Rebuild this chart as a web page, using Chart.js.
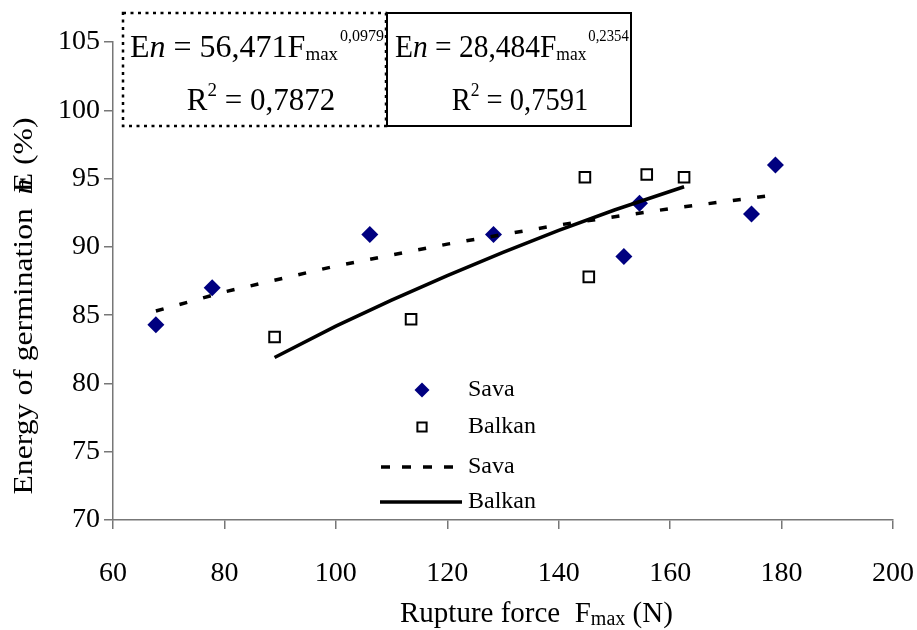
<!DOCTYPE html>
<html>
<head>
<meta charset="utf-8">
<script src="https://cdn.jsdelivr.net/npm/chart.js@4.4.1/dist/chart.umd.min.js"></script>
<style>
  html, body { margin: 0; padding: 0; background: #fff; }
  #wrap { position: relative; width: 917px; height: 630px; }
</style>
</head>
<body>
<div id="wrap"><canvas id="chart" width="917" height="630"></canvas></div>
<script>
const SERIF = '"Liberation Serif", "Times New Roman", serif';

// measured points
const savaX = [67.7, 77.8, 106.1, 128.3, 151.7, 154.5, 174.6, 178.9];
const savaY = [84.3, 87.0, 90.9, 90.9, 89.3, 93.2, 92.4, 96.0];
const balkanX = [89.0, 113.5, 144.7, 145.4, 155.8, 162.5];
const balkanY = [83.4, 84.7, 95.1, 87.8, 95.3, 95.1];

// trend lines
const savaTrendX = [67.7, 80, 100, 120, 140, 160, 178.9];
const savaTrendY = [85.3, 86.7, 88.6, 90.2, 91.6, 92.8, 93.8];
const balkanTrendX = [89, 100, 110, 120, 130, 140, 150, 162.5];
const balkanTrendY = [81.9, 84.2, 86.1, 87.9, 89.6, 91.2, 92.7, 94.4];

// axes
const xRange = [60, 200];
const xStep = 20;
const yRange = [70, 105];
const yStep = 5;

// equation boxes
const eqCoef = ["56,471", "28,484"];
const eqExp = ["0,0979", "0,2354"];
const eqR2 = ["0,7872", "0,7591"];

const legendLabels = ["Sava", "Balkan", "Sava", "Balkan"];

const NAVY = "#000080";
const AXIS = "#777777";
const f = (size, style = "") => `${style} ${size}px ${SERIF}`;
const pts = (xs, ys) => xs.map((x, i) => ({ x, y: ys[i] }));

// draws a list of text pieces one after another, returns the end x
function runText(ctx, x, y, parts, draw = true) {
  parts.forEach((p) => {
    ctx.font = p.font;
    x += p.dx || 0;
    if (draw) ctx.fillText(p.t, x, y + (p.dy || 0));
    if (!p.overlap) x += ctx.measureText(p.t).width;
  });
  return x;
}

function eqLine1(i) {
  return [
    { t: "E", font: f(32) },
    { t: "n", font: f(32, "italic") },
    { t: " = " + eqCoef[i] + "F", font: f(32) },
    { t: "max", font: f(19), dy: 3 },
    { t: eqExp[i], font: f(16), dy: -16, dx: 2 },
  ];
}
function eqLine2(i) {
  return [
    { t: "R", font: f(31) },
    { t: "2", font: f(19), dy: -14 },
    { t: " = " + eqR2[i], font: f(31) },
  ];
}

const overlay = {
  id: "overlay",
  afterDraw(chart) {
    const ctx = chart.ctx;
    ctx.save();
    ctx.fillStyle = "#000";
    ctx.strokeStyle = "#000";
    ctx.textBaseline = "alphabetic";
    ctx.textAlign = "left";

    // equation boxes (the right one is set a little narrower in the original)
    const boxes = [
      { x0: 123, x1: 386, dash: [3, 4.5], lw: 2.5, tx: 130, sx: 1, cx: 261 },
      { x0: 387, x1: 631, dash: [], lw: 2, tx: 395, sx: 0.92, cx: 520 },
    ];
    boxes.forEach((b, i) => {
      ctx.fillStyle = "#fff";
      ctx.fillRect(b.x0, 13, b.x1 - b.x0, 113);
      ctx.setLineDash(b.dash);
      ctx.lineWidth = b.lw;
      ctx.strokeRect(b.x0, 13, b.x1 - b.x0, 113);
      ctx.setLineDash([]);
      ctx.fillStyle = "#000";
      ctx.save();
      ctx.translate(b.tx, 57);
      ctx.scale(b.sx, 1);
      runText(ctx, 0, 0, eqLine1(i));
      ctx.restore();
      const w = runText(ctx, 0, 0, eqLine2(i), false);
      ctx.save();
      ctx.translate(b.cx, 110);
      ctx.scale(b.sx, 1);
      runText(ctx, -w / 2, 0, eqLine2(i));
      ctx.restore();
    });

    // legend
    const ds = chart.data.datasets;
    const lx = 422, tx = 468;
    const rows = [390, 427, 467, 502];
    ctx.fillStyle = ds[0].backgroundColor;
    Chart.helpers.drawPoint(ctx, { pointStyle: "rectRot", radius: 7.5, borderWidth: 0, rotation: 0 }, lx, rows[0]);
    ctx.fillStyle = ds[1].backgroundColor;
    ctx.strokeStyle = ds[1].borderColor;
    ctx.lineWidth = 2;
    Chart.helpers.drawPoint(ctx, { pointStyle: "rect", radius: 6.5, borderWidth: 2, rotation: 0 }, lx, rows[1]);
    ctx.strokeStyle = "#000";
    ctx.lineWidth = 3.5;
    ctx.setLineDash([9, 12]);
    ctx.beginPath(); ctx.moveTo(381, rows[2]); ctx.lineTo(462, rows[2]); ctx.stroke();
    ctx.setLineDash([]);
    ctx.beginPath(); ctx.moveTo(380, rows[3]); ctx.lineTo(462, rows[3]); ctx.stroke();
    ctx.fillStyle = "#000";
    ctx.font = f(24);
    ctx.textBaseline = "middle";
    legendLabels.forEach((t, i) => ctx.fillText(t, tx, rows[i]));

    // x axis title
    ctx.textBaseline = "alphabetic";
    runText(ctx, 400, 622, [
      { t: "Rupture force  F", font: f(29) },
      { t: "max", font: f(20), dy: 3 },
      { t: " (N)", font: f(29) },
    ]);

    // y axis title, fitted to its length in the original
    const yParts = [
      { t: "Energy of germination  ", font: f(28) },
      { t: "n", font: f(28, "italic"), dx: -2, overlap: true },
      { t: "E", font: f(28), dx: 2 },
      { t: " (%)", font: f(28) },
    ];
    const yw = runText(ctx, 0, 0, yParts, false);
    ctx.translate(32, 306);
    ctx.rotate(-Math.PI / 2);
    ctx.scale(377 / yw, 1);
    runText(ctx, -yw / 2, 0, yParts);
    ctx.restore();
  },
};

const tickFont = { family: SERIF, size: 28 };

new Chart(document.getElementById("chart"), {
  type: "scatter",
  data: {
    datasets: [
      {
        label: "Sava", data: pts(savaX, savaY), pointStyle: "rectRot", pointRadius: 8.5,
        backgroundColor: NAVY, borderColor: NAVY, borderWidth: 0, order: 2,
      },
      {
        label: "Balkan", data: pts(balkanX, balkanY), pointStyle: "rect", pointRadius: 7.5,
        backgroundColor: "#fff", borderColor: "#000", borderWidth: 2, order: 2,
      },
      {
        label: "Sava", type: "line", data: pts(savaTrendX, savaTrendY), borderColor: "#000",
        borderWidth: 3.5, borderDash: [8, 16.5], pointRadius: 0, fill: false, order: 1,
      },
      {
        label: "Balkan", type: "line", data: pts(balkanTrendX, balkanTrendY), borderColor: "#000",
        borderWidth: 3.5, pointRadius: 0, fill: false, order: 1,
      },
    ],
  },
  options: {
    responsive: false,
    animation: false,
    devicePixelRatio: 1,
    layout: { padding: { left: 0, right: 24, top: 42, bottom: 0 } },
    plugins: { legend: { display: false }, tooltip: { enabled: false } },
    scales: {
      x: {
        type: "linear", min: xRange[0], max: xRange[1],
        ticks: { stepSize: xStep, font: tickFont, color: "#000", padding: 28, maxRotation: 0 },
        grid: { drawOnChartArea: false, tickLength: 9, color: AXIS, lineWidth: 1.5 },
        border: { color: AXIS, width: 1.5 },
        afterFit: (s) => { s.height = 110; s.paddingLeft = 0; s.paddingRight = 0; },
      },
      y: {
        type: "linear", min: yRange[0], max: yRange[1],
        ticks: { stepSize: yStep, font: tickFont, color: "#000", padding: 4 },
        grid: { drawOnChartArea: false, tickLength: 9, color: AXIS, lineWidth: 1.5 },
        border: { color: AXIS, width: 1.5 },
        afterFit: (s) => { s.width = 113; s.paddingTop = 0; s.paddingBottom = 0; },
      },
    },
  },
  plugins: [overlay],
});
</script>
</body>
</html>
